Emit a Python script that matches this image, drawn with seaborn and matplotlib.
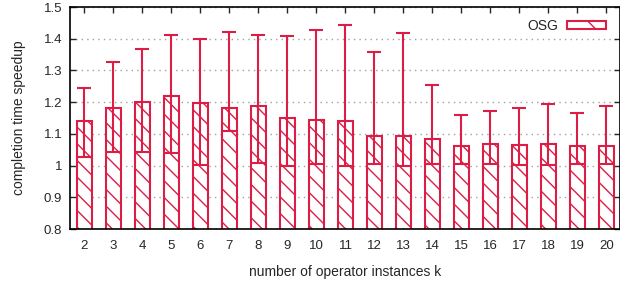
import numpy as np
import pandas as pd
import matplotlib
matplotlib.use("Agg")
import matplotlib.pyplot as plt
import matplotlib.patches as mpatches
import seaborn as sns

#----- datos -----
k_vals = [2, 3, 4, 5, 6, 7, 8, 9, 10, 11, 12, 13, 14, 15, 16, 17, 18, 19, 20]
speedup = [1.142, 1.183, 1.202, 1.220, 1.197, 1.183, 1.188, 1.151, 1.145, 1.139,
           1.094, 1.093, 1.084, 1.063, 1.068, 1.064, 1.068, 1.063, 1.061]
err_low = [1.027, 1.044, 1.042, 1.041, 1.003, 1.109, 1.008, 1.000, 1.004, 1.000,
           1.006, 1.000, 1.006, 1.004, 1.006, 1.003, 1.002, 1.004, 1.006]
err_high = [1.246, 1.327, 1.368, 1.412, 1.398, 1.420, 1.412, 1.410, 1.426, 1.443,
            1.357, 1.419, 1.255, 1.159, 1.172, 1.180, 1.195, 1.167, 1.189]
y_ticks = [0.8, 0.9, 1.0, 1.1, 1.2, 1.3, 1.4, 1.5]
y_tick_labels = ["0.8", "0.9", "1", "1.1", "1.2", "1.3", "1.4", "1.5"]

df = pd.DataFrame({"k": k_vals, "speedup": speedup, "low": err_low, "high": err_high})

color = "#dc1e46"

sns.set_style("white")
plt.rcParams["font.family"] = ["Liberation Sans", "DejaVu Sans"]
plt.rcParams["hatch.linewidth"] = 1.0

fig = plt.figure(figsize=(6.2, 2.82), dpi=100)
ax = fig.add_axes([70 / 620, 1 - 229 / 282, 549.5 / 620, 222 / 282])

#----- barras -----
sns.barplot(data=df, x="k", y="speedup", native_scale=True, width=0.5,
            color="white", edgecolor=color, linewidth=1.5, errorbar=None,
            ax=ax, zorder=2)
for p in ax.patches:
    p.set_hatch("\\\\")
    p.set_facecolor("white")

#----- barras de error -----
ax.errorbar(df["k"], df["speedup"],
            yerr=[df["speedup"] - df["low"], df["high"] - df["speedup"]],
            fmt="none", ecolor=color, elinewidth=1.5, capsize=5, capthick=1.5,
            zorder=3)

#----- ejes -----
ax.set_xlim(1.5, 20.45)
ax.set_ylim(0.8, 1.5)
ax.set_xticks(k_vals)
ax.set_xticklabels([str(k) for k in k_vals])
ax.set_yticks(y_ticks)
ax.set_yticklabels(y_tick_labels)
ax.set_axisbelow(True)
ax.yaxis.grid(True, color="#a0a0a0", linestyle=(0, (1, 3)), linewidth=1.0)
ax.xaxis.grid(False)

for s in ax.spines.values():
    s.set_color("black")
    s.set_linewidth(1.2)

ax.tick_params(axis="x", bottom=False, top=True, direction="in", length=4.5,
               width=1.0, labelsize=9.5, pad=8)
ax.tick_params(axis="y", left=True, right=True, direction="in", length=4.5,
               width=1.0, labelsize=9.5, pad=5.5)

ax.set_xlabel("number of operator instances k", fontsize=10, labelpad=9)
ax.set_ylabel("completion time speedup", fontsize=10, labelpad=13)

#----- leyenda -----
handle = mpatches.Patch(facecolor="white", edgecolor=color, linewidth=1.5,
                        hatch="\\", label="OSG")
ax.legend(handles=[handle], loc="upper right", bbox_to_anchor=(0.985, 0.972),
          frameon=False, markerfirst=False, fontsize=10, borderaxespad=0,
          handlelength=2.8, handleheight=0.54, handletextpad=0.6)

fig.savefig("out.png", dpi=100)
